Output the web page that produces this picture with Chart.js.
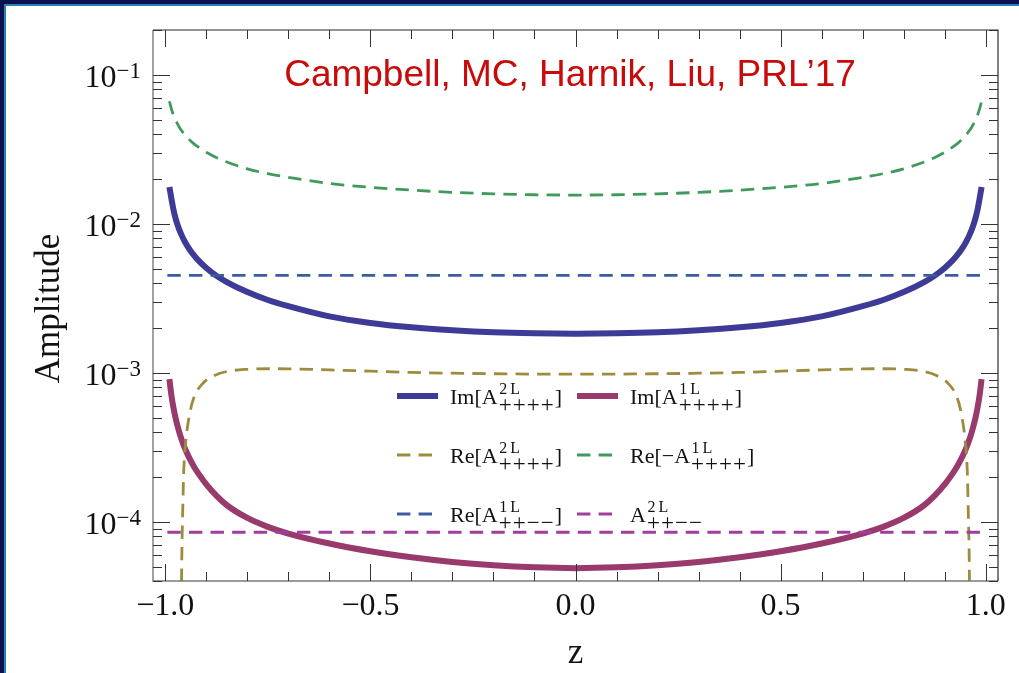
<!DOCTYPE html>
<html>
<head>
<meta charset="utf-8">
<title>Amplitude vs z</title>
<script src="https://cdn.jsdelivr.net/npm/chart.js@4/dist/chart.umd.min.js"></script>
<style>
  html, body { margin: 0; padding: 0; background: #fff; }
  body { width: 1019px; height: 673px; position: relative; overflow: hidden; }
  .edge { position: absolute; }
  #navyTop { left: 0; top: 0; width: 1019px; height: 4px; background: #0c104e; }
  #navyLeft { left: 0; top: 0; width: 4px; height: 673px; background: #0c104e; }
  #lineTop { left: 4px; top: 4px; width: 1015px; height: 2px; background: #2b80b8; }
  #lineLeft { left: 4px; top: 4px; width: 2px; height: 669px; background: #2b80b8; }
  #plot { position: absolute; left: 0; top: 0; }
</style>
</head>
<body>
<div class="edge" id="navyTop"></div>
<div class="edge" id="navyLeft"></div>
<div class="edge" id="lineTop"></div>
<div class="edge" id="lineLeft"></div>
<canvas id="plot" width="1019" height="673" style="width:1019px;height:673px"></canvas>
<script>
// scattering angle grid shared by the curved series (denser near the endpoints)
var zGrid = [-0.99, -0.985, -0.98, -0.975, -0.97, -0.965, -0.96, -0.955, -0.95, -0.94, -0.93, -0.92, -0.9, -0.875, -0.85, -0.8, -0.75, -0.7,
             -0.6, -0.5, -0.4, -0.3, -0.2, -0.1, 0, 0.1, 0.2, 0.3, 0.4, 0.5, 0.6,
             0.7, 0.75, 0.8, 0.85, 0.875, 0.9, 0.92, 0.93, 0.94, 0.95, 0.955, 0.96, 0.965, 0.97, 0.975, 0.98, 0.985, 0.99];

// Im[A 2L ++++]
var imA2L = [0.01765, 0.01468, 0.01239, 0.01088, 0.00981, 0.0090, 0.00836, 0.00782, 0.00738, 0.00667, 0.00613, 0.0057, 0.00505, 0.00447, 0.00406, 0.00348, 0.00308, 0.0028,
             0.00239, 0.00216, 0.00202, 0.00193, 0.00187, 0.00184, 0.00183, 0.00184, 0.00187, 0.00193, 0.00202, 0.00216, 0.00239,
             0.0028, 0.00308, 0.00348, 0.00406, 0.00447, 0.00505, 0.0057, 0.00613, 0.00667, 0.00738, 0.00782, 0.00836, 0.0090, 0.00981, 0.01088, 0.01239, 0.01468, 0.01765];

// Im[A 1L ++++]
var imA1L = [9.05e-4, 7.02e-4, 5.8e-4, 4.97e-4, 4.37e-4, 3.91e-4, 3.55e-4, 3.25e-4, 3.01e-4, 2.63e-4, 2.34e-4, 2.12e-4, 1.78e-4, 1.49e-4, 1.29e-4, 1.06e-4, 9.24e-5, 8.33e-5,
             7.14e-5, 6.33e-5, 5.77e-5, 5.37e-5, 5.1e-5, 4.94e-5, 4.88e-5, 4.94e-5, 5.1e-5, 5.37e-5, 5.77e-5, 6.33e-5, 7.14e-5,
             8.33e-5, 9.24e-5, 1.06e-4, 1.29e-4, 1.49e-4, 1.78e-4, 2.12e-4, 2.34e-4, 2.63e-4, 3.01e-4, 3.25e-4, 3.55e-4, 3.91e-4, 4.37e-4, 4.97e-4, 5.8e-4, 7.02e-4, 9.05e-4];

// Re[-A 1L ++++]
var reNegA1L = [0.0665, 0.0588, 0.0536, 0.0497, 0.0467, 0.0442, 0.0421, 0.0404, 0.0390, 0.0364, 0.0344, 0.0328, 0.0302, 0.0278, 0.0260, 0.0234, 0.0217, 0.0205,
                0.01866, 0.01758, 0.01683, 0.01626, 0.01589, 0.01567, 0.0156, 0.01567, 0.01589, 0.01626, 0.01683, 0.01758, 0.01866,
                0.0205, 0.0217, 0.0234, 0.0260, 0.0278, 0.0302, 0.0328, 0.0344, 0.0364, 0.0390, 0.0404, 0.0421, 0.0442, 0.0467, 0.0497, 0.0536, 0.0588, 0.0665];

// Re[A 2L ++++] changes sign close to |z| = 0.96, so it has its own grid
var zReA2L = [-0.9615, -0.9605, -0.9595, -0.958, -0.955, -0.95, -0.94, -0.93, -0.91, -0.88, -0.85, -0.8, -0.75, -0.7, -0.6, -0.5, -0.4, -0.3, -0.2, -0.1, 0,
              0.1, 0.2, 0.3, 0.4, 0.5, 0.6, 0.7, 0.75, 0.8, 0.85, 0.88, 0.91, 0.93, 0.94, 0.95, 0.955, 0.958, 0.9595, 0.9605, 0.9615];
var reA2L = [1e-6, 3e-5, 6.5e-5, 1.03e-4, 2.22e-4, 3.48e-4, 5.4e-4, 6.85e-4, 8.4e-4, 9.6e-4, 1.02e-3, 1.055e-3, 1.064e-3, 1.062e-3, 1.045e-3, 1.025e-3, 1.005e-3, 9.93e-4, 9.85e-4, 9.8e-4, 9.78e-4,
             9.8e-4, 9.85e-4, 9.93e-4, 1.005e-3, 1.025e-3, 1.045e-3, 1.062e-3, 1.064e-3, 1.055e-3, 1.02e-3, 9.6e-4, 8.4e-4, 6.85e-4, 5.4e-4, 3.48e-4, 2.22e-4, 1.03e-4, 6.5e-5, 3e-5, 1e-6];

// z-independent helicity amplitudes
var zFlat = [-0.995, 0.995];
var reA1Lmm = [4.5e-3, 4.5e-3];
var a2Lmm = [8.5e-5, 8.5e-5];

// axis ticks
var xTickValues = [-1, -0.5, 0, 0.5, 1];
var xTickLabels = ['\u22121.0', '\u22120.5', '0.0', '0.5', '1.0'];
var yTickPowers = [-1, -2, -3, -4];

// legend entries: base text, superscript, subscript signs, closing text
var legendParts = [
  { pre: 'Im[A', sup: ['2', 'L'], sub: '++++', post: ']' },
  { pre: 'Im[A', sup: ['1', 'L'], sub: '++++', post: ']' },
  { pre: 'Re[A', sup: ['2', 'L'], sub: '++++', post: ']' },
  { pre: 'Re[\u2212A', sup: ['1', 'L'], sub: '++++', post: ']' },
  { pre: 'Re[A', sup: ['1', 'L'], sub: '++\u2212\u2212', post: ']' },
  { pre: 'A', sup: ['2', 'L'], sub: '++\u2212\u2212', post: '' }
];

function toPoints(xs, ys) {
  return xs.map(function (x, i) { return { x: x, y: ys[i] }; });
}

var SERIF = '"Liberation Serif", "Times New Roman", serif';
var DASH = [13.4, 8.2];

function drawScripted(ctx, x, base, p) {
  ctx.textAlign = 'left';
  ctx.textBaseline = 'alphabetic';
  ctx.font = '22px ' + SERIF;
  ctx.fillText(p.pre, x, base);
  var sx = x + ctx.measureText(p.pre).width + 1.5;
  ctx.font = '16px ' + SERIF;
  ctx.fillText(p.sup[0], sx, base - 10);
  ctx.fillText(p.sup[1], sx + 11, base - 10);
  ctx.font = '23px ' + SERIF;
  for (var i = 0; i < p.sub.length; i++) {
    ctx.fillText(p.sub[i], sx - 0.5 + i * 14, base + 8.5);
  }
  if (p.post) {
    ctx.font = '22px ' + SERIF;
    ctx.fillText(p.post, sx + p.sub.length * 14 - 0.5, base);
  }
}

var framePlugin = {
  id: 'framePlugin',
  afterDraw: function (chart) {
    var ctx = chart.ctx, a = chart.chartArea;
    var xs = chart.scales.x, ys = chart.scales.y;
    ctx.save();

    // frame
    ctx.lineWidth = 1.4;
    ctx.strokeStyle = '#7a7a7a';
    ctx.beginPath();
    ctx.moveTo(a.left, a.top); ctx.lineTo(a.left, a.bottom); ctx.lineTo(a.right, a.bottom);
    ctx.stroke();
    ctx.strokeStyle = '#2a2a2a';
    ctx.lineWidth = 1.2;
    ctx.beginPath();
    ctx.moveTo(a.left, a.top); ctx.lineTo(a.right, a.top); ctx.lineTo(a.right, a.bottom);
    ctx.stroke();

    // ticks on all four sides, pointing inwards
    ctx.strokeStyle = '#333';
    ctx.lineWidth = 1;
    ctx.beginPath();
    for (var i = -10; i <= 10; i++) {
      var px = Math.round(xs.getPixelForValue(i / 10)) + 0.5;
      var len = (i % 5 === 0) ? 17 : 9;
      ctx.moveTo(px, a.bottom); ctx.lineTo(px, a.bottom - len);
      ctx.moveTo(px, a.top); ctx.lineTo(px, a.top + len);
    }
    for (var k = -5; k <= 0; k++) {
      for (var m = 1; m <= 9; m++) {
        var v = m * Math.pow(10, k);
        if (v < ys.min || v > ys.max) continue;
        var py = Math.round(ys.getPixelForValue(v)) + 0.5;
        var l2 = (m === 1) ? 17 : 9;
        ctx.moveTo(a.left, py); ctx.lineTo(a.left + l2, py);
        ctx.moveTo(a.right, py); ctx.lineTo(a.right - l2, py);
      }
    }
    ctx.stroke();

    // tick labels
    ctx.fillStyle = '#111';
    ctx.textBaseline = 'alphabetic';
    ctx.font = '32px ' + SERIF;
    ctx.textAlign = 'center';
    xTickValues.forEach(function (v, i) {
      ctx.fillText(xTickLabels[i], xs.getPixelForValue(v), 615);
    });
    yTickPowers.forEach(function (p) {
      var py = ys.getPixelForValue(Math.pow(10, p));
      var exp = '\u2212' + Math.abs(p);
      ctx.font = '23px ' + SERIF;
      var we = ctx.measureText(exp).width;
      ctx.font = '32px ' + SERIF;
      var wb = ctx.measureText('10').width;
      var right = 141;
      ctx.textAlign = 'left';
      ctx.fillText('10', right - we - wb, py + 12);
      ctx.font = '23px ' + SERIF;
      ctx.fillText(exp, right - we, py + 3);
    });

    // axis titles
    ctx.font = '35px ' + SERIF;
    ctx.textAlign = 'center';
    ctx.fillText('z', (a.left + a.right) / 2, 663);
    ctx.save();
    ctx.translate(59, (a.top + a.bottom) / 2 + 3);
    ctx.rotate(-Math.PI / 2);
    ctx.fillText('Amplitude', 0, 0);
    ctx.restore();

    // citation
    ctx.fillStyle = '#c80a0a';
    ctx.font = '37px "Liberation Sans", Arial, sans-serif';
    ctx.textAlign = 'center';
    ctx.fillText('Campbell, MC, Harnik, Liu, PRL\u201917', 570, 86);

    // legend, two columns of three rows
    var cols = [{ line: 397, text: 450 }, { line: 577, text: 630 }];
    var rows = [396, 455, 514];
    chart.data.datasets.forEach(function (ds, i) {
      var c = cols[i % 2], y = rows[Math.floor(i / 2)];
      ctx.save();
      ctx.strokeStyle = ds.borderColor;
      ctx.lineWidth = ds.borderWidth;
      ctx.lineCap = 'butt';
      ctx.setLineDash(ds.borderDash || []);
      ctx.beginPath();
      ctx.moveTo(c.line, y); ctx.lineTo(c.line + 41, y);
      ctx.stroke();
      ctx.restore();
      ctx.fillStyle = '#111';
      drawScripted(ctx, c.text, y + 7.5, legendParts[i]);
    });

    ctx.restore();
  }
};

var ctx = document.getElementById('plot').getContext('2d');
var ampChart = new Chart(ctx, {
  type: 'line',
  data: {
    datasets: [{
      label: 'Im[A2L++++]',
      data: toPoints(zGrid, imA2L),
      borderColor: '#3d3b96',
      borderWidth: 6,
      order: 6
    }, {
      label: 'Im[A1L++++]',
      data: toPoints(zGrid, imA1L),
      borderColor: '#983a6c',
      borderWidth: 6,
      order: 5
    }, {
      label: 'Re[A2L++++]',
      data: toPoints(zReA2L, reA2L),
      borderColor: '#9c8c3c',
      borderWidth: 2.8,
      borderDash: DASH,
      order: 4
    }, {
      label: 'Re[-A1L++++]',
      data: toPoints(zGrid, reNegA1L),
      borderColor: '#3f9a5b',
      borderWidth: 2.8,
      borderDash: DASH,
      order: 3
    }, {
      label: 'Re[A1L++--]',
      data: toPoints(zFlat, reA1Lmm),
      borderColor: '#3b5ca3',
      borderWidth: 2.8,
      borderDash: DASH,
      order: 2
    }, {
      label: 'A2L++--',
      data: toPoints(zFlat, a2Lmm),
      borderColor: '#a13d9b',
      borderWidth: 2.8,
      borderDash: DASH,
      order: 1
    }]
  },
  options: {
    responsive: false,
    animation: false,
    layout: { padding: { left: 153, top: 30, right: 21, bottom: 92 } },
    datasets: { line: { clip: 0, cubicInterpolationMode: 'monotone', pointRadius: 0, fill: false } },
    elements: { line: { borderCapStyle: 'butt', borderJoinStyle: 'round' } },
    plugins: { legend: { display: false }, tooltip: { enabled: false } },
    scales: {
      x: { type: 'linear', min: -1.03, max: 1.03, display: false },
      y: { type: 'logarithmic', min: 4e-5, max: 0.2, display: false }
    }
  },
  plugins: [framePlugin]
});
</script>
</body>
</html>
